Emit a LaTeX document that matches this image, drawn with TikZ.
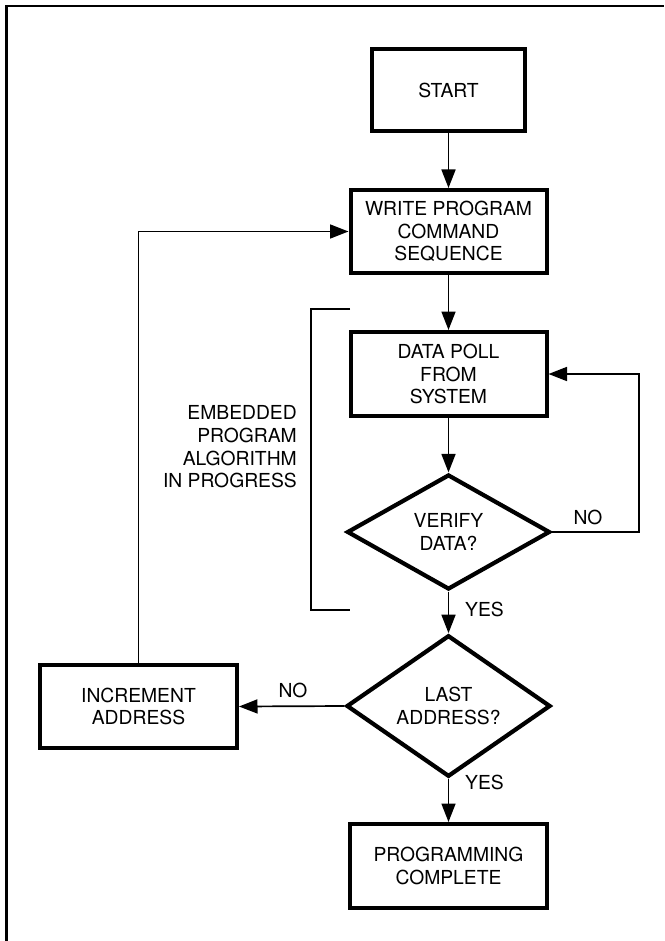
\documentclass[tikz,border=0pt]{standalone}
\usepackage{fontspec}
\setmainfont{TeX Gyre Heros}
\usetikzlibrary{shapes.geometric,arrows.meta}
\tikzset{
  box/.style={draw, line width=4pt, rectangle, inner sep=0pt, align=center,
    font=\fontsize{19.3}{22.7}\selectfont},
  dia/.style={draw, line width=4.2pt, diamond, inner sep=0pt, align=center,
    font=\fontsize{19.3}{22.7}\selectfont},
  conn/.style={line width=1.7pt},
  arr/.style={conn, -{Triangle[length=18.5pt,width=14pt]}},
  lbl/.style={font=\fontsize{19.3}{22.7}\selectfont, inner sep=0pt},
}
\begin{document}
\begin{tikzpicture}[x=1pt,y=-1pt]
\useasboundingbox (0,0) rectangle (664,941);
% frame
\draw[line width=2.6pt] (6.5,941) -- (6.5,6) -- (664,6);
% nodes
\node[box, minimum width=153pt, minimum height=82pt] (start) at (448.5,90) {START};
\node[box, minimum width=196pt, minimum height=83pt] (write) at (448.5,231.5) {WRITE PROGRAM\\COMMAND\\SEQUENCE};
\node[box, minimum width=196pt, minimum height=84pt] (poll) at (448.5,374) {DATA POLL\\FROM\\SYSTEM};
\node[dia, minimum width=203pt, minimum height=115pt] (verify) at (448.5,532) {VERIFY\\DATA?};
\node[dia, minimum width=204pt, minimum height=113pt] (last) at (448.5,706) {LAST\\ADDRESS?};
\node[box, minimum width=197pt, minimum height=83pt] (incr) at (138.5,706.5) {INCREMENT\\ADDRESS};
\node[box, minimum width=197pt, minimum height=84pt] (prog) at (448.5,866) {PROGRAMMING\\COMPLETE};
% labels
\node[lbl, align=right, anchor=east] (emb) at (297,447) {EMBEDDED\\PROGRAM\\ALGORITHM\\IN PROGRESS};
\node[lbl, anchor=west] (yes1) at (465,609) {YES};
\node[lbl, anchor=west] (yes2) at (465,782) {YES};
\node[lbl] (no1) at (588,517) {NO};
\node[lbl] (no2) at (293,690) {NO};
% coordinates
\coordinate (fbx) at (639,0);
\coordinate (bt) at (350,309);
\coordinate (btl) at (311,309);
\coordinate (bbl) at (311,610);
\coordinate (bb) at (350,610);
% connectors
\draw[arr] (start.south) -- (write.north);
\draw[arr] (write.south) -- (poll.north);
\draw[arr] (poll.south) -- (verify.north);
\draw[arr] (verify.south) -- (last.north);
\draw[arr] (last.south) -- (prog.north);
\draw[arr] (last.west) -- (incr.east);
\draw[arr] (verify.east) -- (verify.east -| fbx) |- (poll.east);
\draw[arr] (incr.north) |- (write.west);
% bracket
\draw[conn] (bt) -- (btl) -- (bbl) -- (bb);
\end{tikzpicture}
\end{document}
